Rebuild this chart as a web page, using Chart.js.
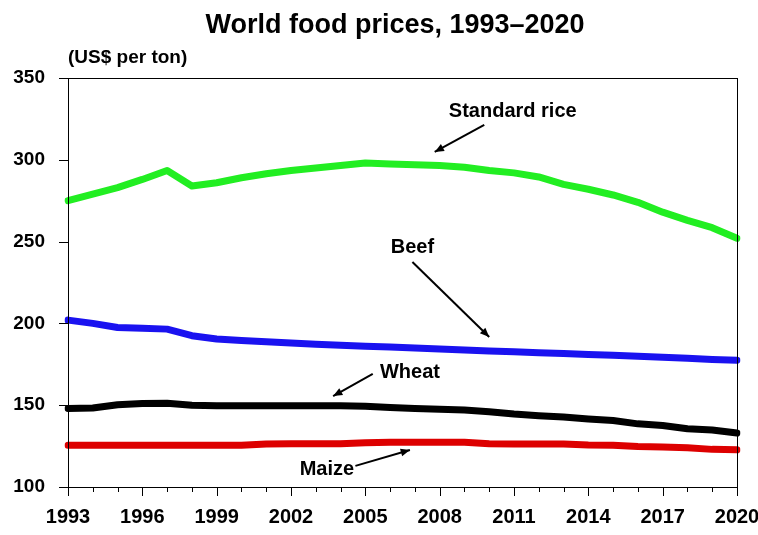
<!DOCTYPE html>
<html>
<head>
<meta charset="utf-8">
<script src="https://cdn.jsdelivr.net/npm/chart.js@4/dist/chart.umd.min.js"></script>
<style>
  body { margin: 0; background: #fff; }
  #wrap { width: 758px; height: 535px; }
</style>
</head>
<body>
<div id="wrap"><canvas id="prices" width="758" height="535"></canvas></div>
<script>
// yearly prices, US$ per ton
var years = ['1993', '1994', '1995', '1996', '1997', '1998', '1999', '2000', '2001', '2002',
    '2003', '2004', '2005', '2006', '2007', '2008', '2009', '2010', '2011', '2012',
    '2013', '2014', '2015', '2016', '2017', '2018', '2019', '2020'];

var rice = [275, 279, 283, 288, 293.5, 284, 286, 289, 291.5, 293.5,
    295, 296.5, 298, 297.5, 297, 296.5, 295.5, 293.5, 292, 289.5,
    285, 282, 278.5, 274, 268, 263, 258.5, 252];

var beef = [202, 200, 197.5, 197, 196.5, 192.5, 190.5, 189.5, 188.8, 188,
    187.3, 186.6, 186, 185.5, 185, 184.4, 183.8, 183.2, 182.7, 182.1,
    181.6, 181, 180.5, 179.9, 179.3, 178.7, 178, 177.5];

var wheat = [148, 148.3, 150.3, 151, 151.2, 150, 149.6, 149.6, 149.6, 149.6,
    149.6, 149.6, 149.4, 148.6, 148, 147.6, 147, 146, 144.6, 143.6,
    142.8, 141.6, 140.6, 138.6, 137.6, 135.6, 134.8, 133];

var maize = [125.5, 125.5, 125.5, 125.5, 125.5, 125.5, 125.5, 125.5, 126.3, 126.5,
    126.5, 126.5, 127, 127.3, 127.3, 127.3, 127.3, 126.5, 126.3, 126.3,
    126.3, 125.7, 125.5, 124.7, 124.5, 124, 123, 122.7];

var yTicks = [100, 150, 200, 250, 300, 350];

// callout labels: text spot and arrow (year, price)
var notes = [
    { text: 'Standard rice', at: [2010.95, 329.8], from: [2009.8, 321.3], to: [2007.8, 304.8] },
    { text: 'Beef', at: [2006.9, 246.7], from: [2006.9, 237.5], to: [2010.0, 191.7] },
    { text: 'Wheat', at: [2006.8, 170.3], from: [2005.3, 169.1], to: [2003.7, 155.6] },
    { text: 'Maize', at: [2003.45, 111], from: [2004.6, 112.9], to: [2006.8, 122.6] }
];

var FONT = '"Liberation Sans", Arial, sans-serif';

function line(label, data, color) {
    return {
        label: label,
        data: data,
        borderColor: color,
        backgroundColor: color,
        borderWidth: 7,
        pointRadius: 0,
        tension: 0,
        borderCapStyle: 'round',
        borderJoinStyle: 'round'
    };
}

var decor = {
    id: 'decor',
    afterDraw: function (chart) {
        var ctx = chart.ctx;
        var a = chart.chartArea;
        var xs = chart.scales.x;
        var ys = chart.scales.y;
        ctx.save();

        // frame
        ctx.strokeStyle = '#000';
        ctx.lineWidth = 1;
        ctx.strokeRect(a.left + 0.5, a.top + 0.5, a.right - a.left, a.bottom - a.top);

        // year ticks under the axis, longer every third year
        for (var i = 0; i < years.length; i++) {
            var px = Math.round(xs.getPixelForValue(i)) + 0.5;
            ctx.beginPath();
            ctx.moveTo(px, a.bottom);
            ctx.lineTo(px, a.bottom + (i % 3 === 0 ? 9 : 5));
            ctx.stroke();
        }
        // price ticks left of the axis
        yTicks.forEach(function (v) {
            var py = Math.round(ys.getPixelForValue(v)) + 0.5;
            ctx.beginPath();
            ctx.moveTo(a.left - 9, py);
            ctx.lineTo(a.left, py);
            ctx.stroke();
        });

        // title and unit
        ctx.fillStyle = '#000';
        ctx.textBaseline = 'middle';
        ctx.textAlign = 'center';
        ctx.font = 'bold 27px ' + FONT;
        ctx.fillText('World food prices, 1993\u20132020', 395, 26);
        ctx.textAlign = 'left';
        ctx.font = 'bold 19px ' + FONT;
        ctx.fillText('(US$ per ton)', a.left, 58);

        // callouts
        ctx.font = 'bold 20px ' + FONT;
        ctx.textAlign = 'center';
        ctx.lineWidth = 2;
        notes.forEach(function (n) {
            var tx = xs.getPixelForValue(n.at[0] - 1993);
            var ty = ys.getPixelForValue(n.at[1]);
            ctx.fillText(n.text, tx, ty);
            var x1 = xs.getPixelForValue(n.from[0] - 1993);
            var y1 = ys.getPixelForValue(n.from[1]);
            var x2 = xs.getPixelForValue(n.to[0] - 1993);
            var y2 = ys.getPixelForValue(n.to[1]);
            ctx.beginPath();
            ctx.moveTo(x1, y1);
            ctx.lineTo(x2, y2);
            ctx.stroke();
            var ang = Math.atan2(y2 - y1, x2 - x1);
            ctx.beginPath();
            ctx.moveTo(x2, y2);
            ctx.lineTo(x2 - 10 * Math.cos(ang - 0.4), y2 - 10 * Math.sin(ang - 0.4));
            ctx.lineTo(x2 - 10 * Math.cos(ang + 0.4), y2 - 10 * Math.sin(ang + 0.4));
            ctx.closePath();
            ctx.fill();
        });
        ctx.restore();
    }
};

var config = {
    type: 'line',
    data: {
        labels: years,
        datasets: [
            line('Maize', maize, '#dd0000'),
            line('Wheat', wheat, '#000000'),
            line('Beef', beef, '#1a12f0'),
            line('Standard rice', rice, '#22ee22')
        ]
    },
    options: {
        responsive: false,
        animation: false,
        events: [],
        layout: { padding: { top: 78, right: 21, left: 0, bottom: 0 } },
        plugins: {
            legend: { display: false },
            title: { display: false },
            tooltip: { enabled: false }
        },
        scales: {
            x: {
                offset: false,
                grid: { display: false },
                border: { display: false },
                afterFit: function (s) { s.height = 48; s.paddingLeft = 0; s.paddingRight = 0; },
                ticks: {
                    autoSkip: false,
                    maxRotation: 0,
                    padding: 10,
                    color: '#000',
                    font: { family: FONT, size: 20, weight: 'bold' },
                    callback: function (v, i) { return i % 3 === 0 ? years[i] : ''; }
                }
            },
            y: {
                min: 100,
                max: 350,
                grid: { display: false },
                border: { display: false },
                afterFit: function (s) { s.width = 68; },
                afterBuildTicks: function (s) { s.ticks = yTicks.map(function (v) { return { value: v }; }); },
                ticks: {
                    padding: 15,
                    color: '#000',
                    font: { family: FONT, size: 19, weight: 'bold' }
                }
            }
        }
    },
    plugins: [decor]
};

window.foodChart = new Chart(document.getElementById('prices').getContext('2d'), config);
</script>
</body>
</html>
